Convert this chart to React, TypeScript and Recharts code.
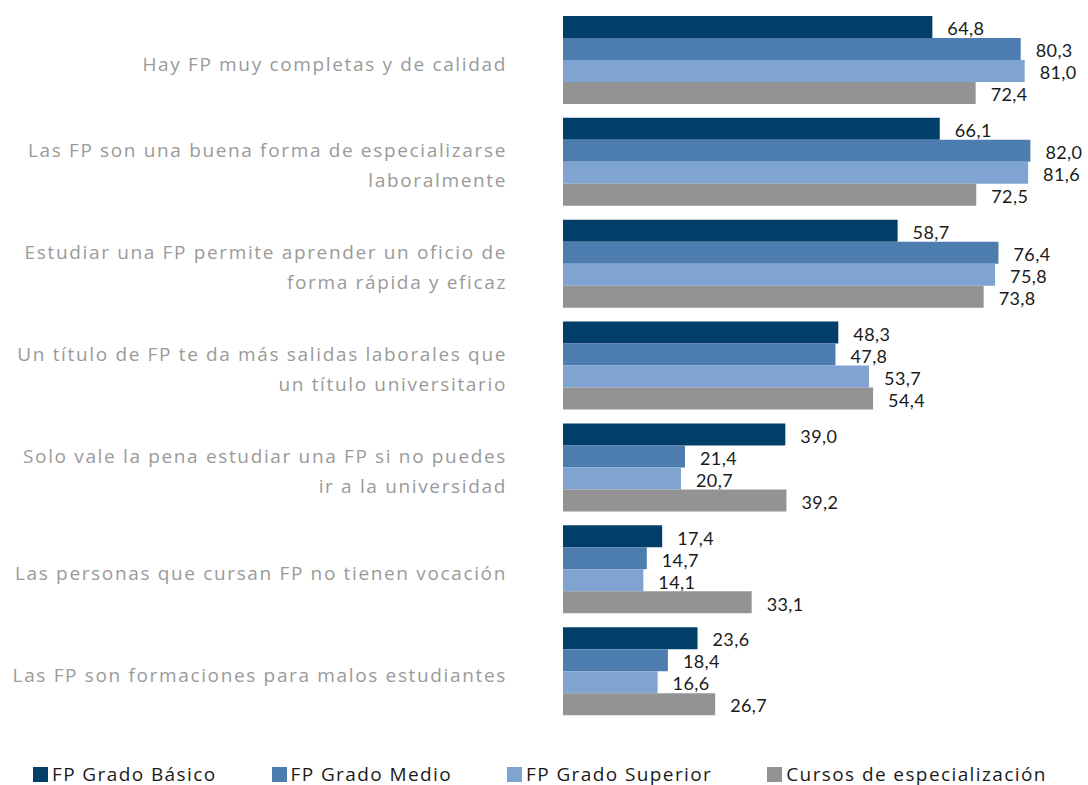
import React from "react";
import { BarChart, Bar, XAxis, YAxis, Legend, LabelList } from "recharts";

const categories = [
  "Hay FP muy completas y de calidad",
  "Las FP son una buena forma de especializarse\nlaboralmente",
  "Estudiar una FP permite aprender un oficio de\nforma rápida y eficaz",
  "Un título de FP te da más salidas laborales que\nun título universitario",
  "Solo vale la pena estudiar una FP si no puedes\nir a la universidad",
  "Las personas que cursan FP no tienen vocación",
  "Las FP son formaciones para malos estudiantes",
];

const gradoBasico = [64.8, 66.1, 58.7, 48.3, 39.0, 17.4, 23.6];
const gradoMedio = [80.3, 82.0, 76.4, 47.8, 21.4, 14.7, 18.4];
const gradoSuperior = [81.0, 81.6, 75.8, 53.7, 20.7, 14.1, 16.6];
const cursosEspecializacion = [72.4, 72.5, 73.8, 54.4, 39.2, 33.1, 26.7];

const series = [
  { key: "basico", name: "FP Grado Básico", color: "#023f68" },
  { key: "medio", name: "FP Grado Medio", color: "#4d7daf" },
  { key: "superior", name: "FP Grado Superior", color: "#80a4d1" },
  { key: "cursos", name: "Cursos de especialización", color: "#939393" },
];

const data = categories.map((name, i) => ({
  name,
  basico: gradoBasico[i],
  medio: gradoMedio[i],
  superior: gradoSuperior[i],
  cursos: cursosEspecializacion[i],
}));

const FONT = "'Open Sans', Lato, sans-serif";
const NUM_FONT = "Lato, 'Open Sans', sans-serif";

const fmt = (v: number) => v.toFixed(1).replace(".", ",");

const CategoryTick = (props: any) => {
  const { x, y, payload } = props;
  const lines = String(payload.value).split("\n");
  const start = -((lines.length - 1) * 30) / 2 + 3;
  return (
    <text
      x={x}
      y={y}
      textAnchor="end"
      fill="#9a9a9a"
      fontSize={19}
      fontFamily={FONT}
      letterSpacing={1.65}
    >
      {lines.map((line, i) => (
        <tspan key={i} x={x} y={y + start + i * 30} dy="0.35em">
          {line}
        </tspan>
      ))}
    </text>
  );
};

const ValueLabel = (props: any) => {
  const { x, y, width, height, value } = props;
  return (
    <text
      x={x + width + 15}
      y={y + height / 2 + 2}
      dy="0.35em"
      fill="#1a1a1a"
      fontSize={18}
      fontFamily={NUM_FONT}
      letterSpacing={0.4}
    >
      {fmt(Number(value))}
    </text>
  );
};

const LegendContent = () => (
  <div
    style={{
      height: 62,
      display: "flex",
      alignItems: "flex-end",
      paddingLeft: 33,
      paddingBottom: 1,
      fontFamily: FONT,
      fontSize: 19,
      letterSpacing: 1.4,
      color: "#1a1a1a",
      boxSizing: "border-box",
      whiteSpace: "nowrap",
    }}
  >
    {series.map((s, i) => (
      <div
        key={s.key}
        style={{
          display: "flex",
          alignItems: "center",
          marginRight: i < series.length - 1 ? 55 : 0,
          height: 20,
          flexShrink: 0,
        }}
      >
        <span
          style={{
            display: "inline-block",
            width: 15,
            height: 15,
            background: s.color,
            marginRight: 4,
          }}
        />
        <span>{s.name}</span>
      </div>
    ))}
  </div>
);

export default function App() {
  return (
    <div style={{ position: "absolute", left: 0, top: 0, width: 1088, height: 785, background: "#fff" }}>
      <BarChart
        width={1088}
        height={785}
        data={data}
        layout="vertical"
        margin={{ top: 10, right: 12, left: 0, bottom: 0 }}
        barCategoryGap={6}
        barGap={0}
      >
        <XAxis type="number" domain={[0, 90]} hide />
        <YAxis
          type="category"
          dataKey="name"
          width={563}
          axisLine={false}
          tickLine={false}
          tickSize={0}
          tickMargin={56}
          tick={<CategoryTick />}
          interval={0}
        />
        <Legend verticalAlign="bottom" content={<LegendContent />} />
        {series.map((s) => (
          <Bar key={s.key} dataKey={s.key} name={s.name} fill={s.color} isAnimationActive={false}>
            <LabelList dataKey={s.key} content={<ValueLabel />} />
          </Bar>
        ))}
      </BarChart>
    </div>
  );
}
